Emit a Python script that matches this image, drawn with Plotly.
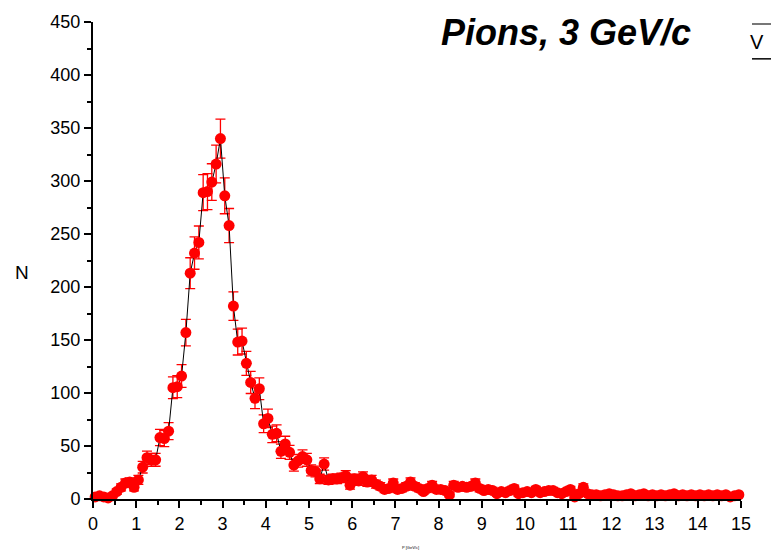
import numpy as np
import plotly.graph_objects as go

# bin centres (GeV/c) and counts
momentum = [round(0.05 + 0.1 * i, 2) for i in range(150)]
counts = [
    2, 3, 2, 1, 3, 7, 11, 15, 16, 11,
    18, 30, 39, 37, 37, 58, 57, 64, 105, 106,
    116, 157, 213, 232, 242, 289, 290, 299, 316, 340,
    286, 258, 182, 148, 149, 128, 110, 95, 104, 71,
    76, 61, 62, 45, 52, 44, 32, 36, 40, 37,
    27, 26, 19, 33, 18, 19, 19, 20, 22, 13,
    19, 17, 21, 16, 18, 14, 12, 9, 10, 15,
    9, 10, 12, 16, 12, 10, 7, 10, 13, 9,
    9, 8, 4, 13, 11, 12, 11, 12, 15, 10,
    8, 9, 8, 5, 7, 6, 8, 10, 5, 6,
    7, 6, 9, 6, 7, 8, 8, 6, 5, 7,
    9, 2, 5, 11, 5, 4, 4, 3, 4, 5,
    4, 3, 3, 4, 5, 3, 4, 5, 3, 4,
    3, 4, 3, 4, 5, 3, 4, 3, 4, 3,
    4, 3, 4, 3, 4, 3, 4, 2, 3, 4,
]
errors = np.sqrt(np.array(counts, dtype=float))

title_text = "Pions, 3 GeV/c"
x_title = "P [GeV/c]"
y_title = "N"
x_ticks = list(range(0, 16))
y_ticks = list(range(0, 451, 50))

font_family = "Arial, Liberation Sans, sans-serif"

W, H = 771, 553
l, r, t, b = 93, 30, 20, 54
pw, ph = W - l - r, H - t - b


def px(x):
    return (x - l) / pw


def py(y):
    return (H - b - y) / ph


fig = go.Figure()
fig.add_trace(go.Scatter(
    x=momentum, y=counts,
    mode="lines+markers",
    line=dict(color="black", width=1),
    marker=dict(color="#ff0000", size=11),
    error_y=dict(type="data", array=errors, visible=True,
                 color="#ff0000", thickness=1.3, width=5),
    cliponaxis=False,
    showlegend=False,
))

axis_common = dict(
    showline=True, linecolor="black", linewidth=2,
    ticks="outside", ticklen=7, tickwidth=1.5, tickcolor="black",
    showgrid=False, zeroline=False,
    tickfont=dict(family=font_family, size=18, color="black"),
)

fig.update_layout(
    width=W, height=H,
    margin=dict(l=l, r=r, t=t, b=b),
    paper_bgcolor="white", plot_bgcolor="white",
    font=dict(family=font_family, color="black"),
    xaxis=dict(range=[0, 15], tickvals=x_ticks,
               minor=dict(dtick=0.5, ticklen=4, tickwidth=1.5, tickcolor="black", ticks="outside"),
               **axis_common),
    yaxis=dict(range=[0, 450], tickvals=y_ticks,
               minor=dict(dtick=25, ticklen=4, tickwidth=1.5, tickcolor="black", ticks="outside"),
               **axis_common),
    annotations=[
        dict(text="<b><i>" + title_text + "</i></b>", x=px(566), y=py(31),
             xref="paper", yref="paper", xanchor="center", yanchor="middle",
             showarrow=False, font=dict(size=36, family=font_family, color="black")),
        dict(text=y_title, x=px(22), y=py(272), xref="paper", yref="paper",
             xanchor="center", yanchor="middle", showarrow=False,
             font=dict(size=19, family=font_family, color="black")),
        dict(text=x_title, x=px(410), y=py(548), xref="paper", yref="paper",
             xanchor="center", yanchor="middle", showarrow=False,
             font=dict(size=4, family=font_family, color="black")),
        dict(text="V", x=px(757), y=py(40), xref="paper", yref="paper",
             xanchor="center", yanchor="middle", showarrow=False,
             font=dict(size=20, family=font_family, color="black")),
    ],
)

fig.add_shape(type="line", xref="paper", yref="paper",
              x0=px(752), x1=px(771), y0=py(22), y1=py(22),
              line=dict(color="#777777", width=2))
fig.add_shape(type="line", xref="paper", yref="paper",
              x0=px(752), x1=px(771), y0=py(57), y1=py(57),
              line=dict(color="black", width=1.5))

fig.write_html("out.html")
